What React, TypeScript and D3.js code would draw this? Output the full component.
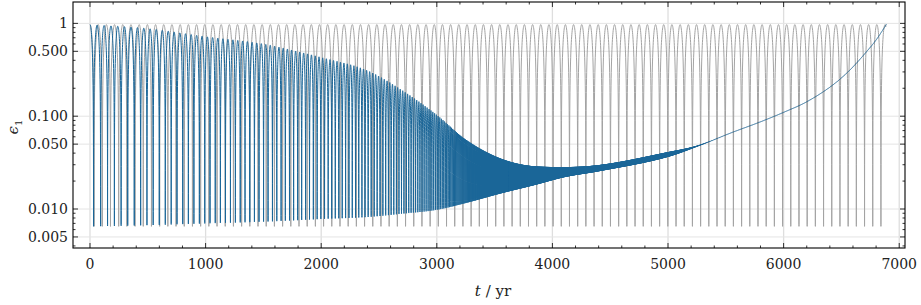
import React from "react";
import * as d3 from "d3";

const W = 921;
const H = 305;
const margin = { left: 73, right: 16, top: 2, bottom: 57 };

// axis ticks
const xTicks = [0, 1000, 2000, 3000, 4000, 5000, 6000, 7000];
const yTicks = [1, 0.5, 0.1, 0.05, 0.01, 0.005];
const yTickLabels = ["1", "0.500", "0.100", "0.050", "0.010", "0.005"];

// grey run: steady cycles
const grayPeriod = 70.9; // yr
const grayMax = 0.97;
const grayMin = 0.0065;
const grayEnd = 6885;

// blue run: envelope (t in yr)
const blueT = [0, 500, 1000, 1500, 1820, 2000, 2400, 2700, 3000, 3250, 3550, 3850, 4100, 4400, 5000, 5250, 5565, 5800, 6000, 6200, 6430, 6575, 6720, 6805, 6890];
const blueMax = [0.97, 0.88, 0.72, 0.6, 0.49, 0.43, 0.31, 0.19, 0.103, 0.056, 0.035, 0.0288, 0.0283, 0.0297, 0.041, 0.048, 0.0676, 0.087, 0.11, 0.143, 0.219, 0.316, 0.5, 0.676, 0.98];
const blueMin = [0.0065, 0.0067, 0.007, 0.0073, 0.0076, 0.0078, 0.0082, 0.0089, 0.0098, 0.0116, 0.0147, 0.0182, 0.022, 0.0255, 0.0365, 0.047, 0.0676, 0.087, 0.11, 0.143, 0.219, 0.316, 0.5, 0.676, 0.98];
// blue oscillation period
const periodT = [0, 500, 1000, 1500, 2000, 2500, 3000, 3200, 3500, 4000];
const periodYr = [62, 54, 46, 39, 32, 25, 15, 9, 4, 3];

const x = d3.scaleLinear().domain([-147, 7050]).range([margin.left, W - margin.right]);
const y = d3.scaleLog().domain([0.0038, 1.7]).range([H - margin.bottom, margin.top]);

// smooth monotone interpolation through knots (Fritsch-Carlson)
function monotone(xs: number[], ys: number[]) {
  const n = xs.length;
  const d: number[] = [];
  for (let i = 0; i < n - 1; i++) d.push((ys[i + 1] - ys[i]) / (xs[i + 1] - xs[i]));
  const m: number[] = [d[0]];
  for (let i = 1; i < n - 1; i++) m.push(d[i - 1] * d[i] <= 0 ? 0 : (d[i - 1] + d[i]) / 2);
  m.push(d[n - 2]);
  for (let i = 0; i < n - 1; i++) {
    if (d[i] === 0) {
      m[i] = 0;
      m[i + 1] = 0;
      continue;
    }
    const a = m[i] / d[i];
    const b = m[i + 1] / d[i];
    const s = a * a + b * b;
    if (s > 9) {
      const tau = 3 / Math.sqrt(s);
      m[i] = tau * a * d[i];
      m[i + 1] = tau * b * d[i];
    }
  }
  return (t: number) => {
    if (t <= xs[0]) return ys[0];
    if (t >= xs[n - 1]) return ys[n - 1];
    const i = Math.min(n - 2, d3.bisectRight(xs, t) - 1);
    const h = xs[i + 1] - xs[i];
    const u = (t - xs[i]) / h;
    const u2 = u * u;
    const u3 = u2 * u;
    return (
      (2 * u3 - 3 * u2 + 1) * ys[i] +
      (u3 - 2 * u2 + u) * h * m[i] +
      (-2 * u3 + 3 * u2) * ys[i + 1] +
      (u3 - u2) * h * m[i + 1]
    );
  };
}

function cycleValue(phi: number, hi: number, lo: number) {
  const s = Math.sin(Math.PI * phi);
  return Math.sqrt(lo * lo + (hi * hi - lo * lo) * s * s);
}

function grayPoints() {
  const pts: [number, number][] = [];
  const N = 64;
  const phiEnd = 0.5 + grayEnd / grayPeriod;
  for (let k = 0; k <= Math.ceil(phiEnd); k++) {
    for (let j = 0; j < N; j++) {
      const phi = k + 0.5 - 0.5 * Math.cos((Math.PI * j) / N);
      if (phi < 0.5 || phi > phiEnd) continue;
      pts.push([(phi - 0.5) * grayPeriod, cycleValue(phi, grayMax, grayMin)]);
    }
  }
  pts.push([grayEnd, cycleValue(phiEnd, grayMax, grayMin)]);
  return pts;
}

function bluePoints() {
  const hiS = monotone(blueT, blueMax.map(Math.log10));
  const loS = monotone(blueT, blueMin.map(Math.log10));
  const pS = monotone(periodT, periodYr);
  const tEnd = blueT[blueT.length - 1];
  const pts: [number, number][] = [];
  let t = 0;
  let phi = 0.5;
  pts.push([0, cycleValue(phi, 10 ** hiS(0), 10 ** loS(0))]);
  let k = 0;
  while (t < tEnd) {
    const P = pS(t);
    const N = P > 12 ? 64 : 10;
    for (let j = 1; j <= N && t < tEnd; j++) {
      const u = k + 0.5 - 0.5 * Math.cos((Math.PI * j) / N);
      if (u <= phi) continue;
      t += pS(t) * (u - phi);
      phi = u;
      const tt = Math.min(t, tEnd);
      const hi = 10 ** hiS(tt);
      const lo = Math.min(hi, 10 ** loS(tt));
      pts.push([tt, cycleValue(phi, hi, lo)]);
    }
    k++;
  }
  return pts;
}

const line = d3
  .line<[number, number]>()
  .x((d) => x(d[0]))
  .y((d) => y(d[1]));

const grayPath = line(grayPoints()) || "";
const bluePath = line(bluePoints()) || "";

const xMinor = d3.range(0, 7001, 200).filter((v) => v % 1000 !== 0);
const yMinor: number[] = [];
for (let d = -3; d <= 0; d++) {
  for (let m = 2; m <= 9; m++) {
    const v = m * 10 ** d;
    if (m === 5) continue;
    if (v >= 0.0038 && v <= 1.7) yMinor.push(v);
  }
}

const font = "DejaVu Serif";

export default function App() {
  const L = margin.left;
  const R = W - margin.right;
  const T = margin.top;
  const B = H - margin.bottom;
  return (
    <svg width={W} height={H} style={{ position: "fixed", left: 0, top: 0, background: "#fff" }}>
      <rect x={0} y={0} width={W} height={H} fill="#fff" />
      <g>
        {xTicks.map((v) => (
          <line key={"gx" + v} x1={x(v)} x2={x(v)} y1={T} y2={B} stroke="#dedede" strokeWidth={1.3} />
        ))}
        {yTicks.map((v) => (
          <line key={"gy" + v} x1={L} x2={R} y1={y(v)} y2={y(v)} stroke="#e4e4e4" strokeWidth={1} />
        ))}
      </g>
      <defs>
        <clipPath id="plot">
          <rect x={L} y={T} width={R - L} height={B - T} />
        </clipPath>
      </defs>
      <g clipPath="url(#plot)">
        <path d={grayPath} fill="none" stroke="#a3a3a3" strokeWidth={1} />
        <path d={bluePath} fill="none" stroke="#1a6698" strokeWidth={1} />
      </g>
      <rect x={L} y={T} width={R - L} height={B - T} fill="none" stroke="#000" strokeWidth={1.1} />
      <g stroke="#000" strokeWidth={0.8}>
        {xTicks.map((v) => (
          <g key={"tx" + v}>
            <line x1={x(v)} x2={x(v)} y1={B} y2={B - 5} />
            <line x1={x(v)} x2={x(v)} y1={T} y2={T + 5} />
          </g>
        ))}
        {xMinor.map((v) => (
          <g key={"mx" + v}>
            <line x1={x(v)} x2={x(v)} y1={B} y2={B - 2.5} />
            <line x1={x(v)} x2={x(v)} y1={T} y2={T + 2.5} />
          </g>
        ))}
        {yTicks.map((v) => (
          <g key={"ty" + v}>
            <line x1={L} x2={L + 5} y1={y(v)} y2={y(v)} />
            <line x1={R} x2={R - 5} y1={y(v)} y2={y(v)} />
          </g>
        ))}
        {yMinor.map((v) => (
          <g key={"my" + v}>
            <line x1={L} x2={L + 2.5} y1={y(v)} y2={y(v)} />
            <line x1={R} x2={R - 2.5} y1={y(v)} y2={y(v)} />
          </g>
        ))}
      </g>
      <g fontFamily={font} fontSize={14} fill="#222">
        {xTicks.map((v) => (
          <text key={"lx" + v} x={x(v)} y={B + 21} textAnchor="middle">
            {v}
          </text>
        ))}
        {yTicks.map((v, i) => (
          <text key={"ly" + v} x={L - 5} y={y(v) + 5} textAnchor="end">
            {yTickLabels[i]}
          </text>
        ))}
      </g>
      <text x={(L + R) / 2 + 4} y={296} textAnchor="middle" fontFamily={font} fontSize={15} fill="#222">
        <tspan fontStyle="italic">t</tspan>
        <tspan> / yr</tspan>
      </text>
      <text transform={`translate(18, ${(T + B) / 2 + 2}) rotate(-90)`} textAnchor="middle" fontFamily={font} fontSize={15} fill="#222">
        <tspan fontStyle="italic">ϵ</tspan>
        <tspan fontSize={10} dy={4}>1</tspan>
      </text>
    </svg>
  );
}
